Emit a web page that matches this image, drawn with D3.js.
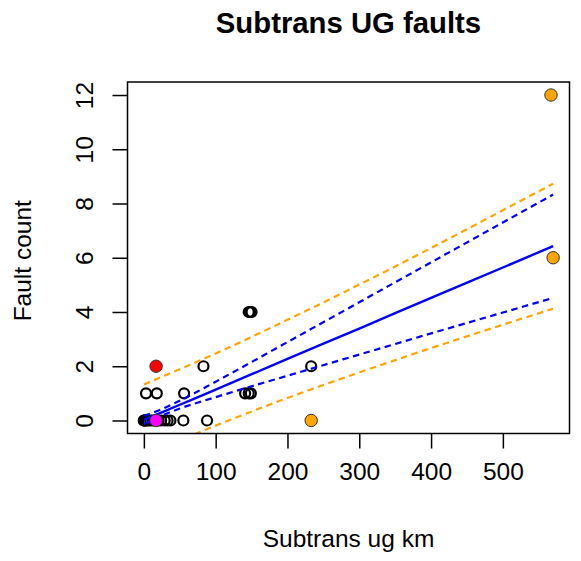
<!DOCTYPE html>
<html>
<head>
<meta charset="utf-8">
<script src="https://cdn.jsdelivr.net/npm/d3@7/dist/d3.min.js"></script>
<style>
  body { margin: 0; background: #fff; }
  text { font-family: "Liberation Sans", Arial, Helvetica, sans-serif; fill: #000; }
</style>
</head>
<body>
<svg id="chart" width="581" height="561"></svg>
<script>
// Underground subtransmission length per circuit vs. recorded faults
const openKm     = [0, 0, 1, 2, 4, 6, 9, 12, 20, 24, 29, 33, 37, 55, 88,
                    3, 18, 56, 141, 146, 149,
                    83, 233,
                    146, 148, 150];
const openFaults = [0, 0, 0, 0, 0, 0, 0, 0, 0, 0, 0, 0, 0, 0, 0,
                    1, 1, 1, 1, 1, 1,
                    2, 2,
                    4, 4, 4];

// Highlighted circuits
const hlKm     = [17, 17, 233, 567, 570];
const hlFaults = [2, 0, 0, 12, 6];
const hlGroup  = ["high", "target", "large", "large", "large"];

// Fitted line with confidence and prediction bands
const bandKm = [0, 25, 50, 100, 200, 300, 400, 500, 570];
const fitVal = [0.02, 0.30, 0.58, 1.14, 2.27, 3.39, 4.52, 5.64, 6.43];
const confLo = [-0.13, 0.18, 0.44, 0.86, 1.65, 2.43, 3.21, 3.98, 4.52];
const confHi = [0.17, 0.42, 0.73, 1.43, 2.89, 4.36, 5.83, 7.30, 8.33];
const predLo = [-1.29, -1.00, -0.73, -0.19, 0.83, 1.77, 2.67, 3.53, 4.12];
const predHi = [1.33, 1.61, 1.89, 2.47, 3.71, 5.01, 6.36, 7.75, 8.73];

const xTicks = [0, 100, 200, 300, 400, 500];
const yTicks = [0, 2, 4, 6, 8, 10, 12];

const svg = d3.select("#chart");
const plot = { left: 127.5, right: 569.5, top: 82, bottom: 433.5 };

const x = d3.scaleLinear().domain([-22.8, 592.8]).range([plot.left, plot.right]);
const y = d3.scaleLinear().domain([-0.48, 12.48]).range([plot.bottom, plot.top]);

const groupColor = d3.scaleOrdinal()
  .domain(["high", "target", "large"])
  .range(["#ff0000", "#ff00ff", "#ffa500"]);

svg.append("defs").append("clipPath").attr("id", "plotClip")
  .append("rect")
  .attr("x", plot.left).attr("y", plot.top)
  .attr("width", plot.right - plot.left).attr("height", plot.bottom - plot.top);

// Open circles
const openPts = openKm.map((k, i) => ({ k, f: openFaults[i] }));
svg.append("g").selectAll("circle").data(openPts).join("circle")
  .attr("cx", d => x(d.k)).attr("cy", d => y(d.f)).attr("r", 5)
  .attr("fill", "none").attr("stroke", "#000").attr("stroke-width", 2.2);

// Bands and fit
const bandRows = bandKm.map((k, i) => ({
  k, fit: fitVal[i], cl: confLo[i], ch: confHi[i], pl: predLo[i], ph: predHi[i]
}));
const lineFor = key => d3.line().x(d => x(d.k)).y(d => y(d[key])).curve(d3.curveMonotoneX);
const lines = svg.append("g").attr("clip-path", "url(#plotClip)").attr("fill", "none");
[["pl", "#ffa500"], ["ph", "#ffa500"], ["cl", "#0000ff"], ["ch", "#0000ff"]].forEach(([key, col]) => {
  lines.append("path").datum(bandRows).attr("d", lineFor(key))
    .attr("stroke", col).attr("stroke-width", 2.2).attr("stroke-dasharray", "6.5,4.5");
});
lines.append("path").datum(bandRows).attr("d", lineFor("fit"))
  .attr("stroke", "#0000ff").attr("stroke-width", 2.4);

// Filled highlighted circles
const hlPts = hlKm.map((k, i) => ({ k, f: hlFaults[i], g: hlGroup[i] }));
svg.append("g").selectAll("circle").data(hlPts).join("circle")
  .attr("cx", d => x(d.k)).attr("cy", d => y(d.f)).attr("r", 6.2)
  .attr("fill", d => groupColor(d.g)).attr("stroke", "#333").attr("stroke-width", 1);

// Frame
svg.append("rect")
  .attr("x", plot.left).attr("y", plot.top)
  .attr("width", plot.right - plot.left).attr("height", plot.bottom - plot.top)
  .attr("fill", "none").attr("stroke", "#000").attr("stroke-width", 1.5);

// X axis
const xAxis = svg.append("g").attr("transform", `translate(0,${plot.bottom})`)
  .call(d3.axisBottom(x).tickValues(xTicks).tickSize(15).tickSizeOuter(0));
xAxis.select(".domain").remove();
xAxis.selectAll(".tick line").attr("stroke", "#000").attr("stroke-width", 1.5);
xAxis.selectAll(".tick text")
  .attr("y", 46.5).attr("dy", null)
  .attr("font-size", 24.5).attr("font-family", "Liberation Sans, Arial, sans-serif").attr("fill", "#000");

// Y axis
const yAxis = svg.append("g").attr("transform", `translate(${plot.left},0)`)
  .call(d3.axisLeft(y).tickValues(yTicks).tickSize(15).tickSizeOuter(0));
yAxis.select(".domain").remove();
yAxis.selectAll(".tick line").attr("stroke", "#000").attr("stroke-width", 1.5);
yAxis.selectAll(".tick text")
  .attr("x", null).attr("dy", null)
  .attr("text-anchor", "middle")
  .attr("transform", "translate(-34.5,0) rotate(-90)")
  .attr("font-size", 24.5).attr("font-family", "Liberation Sans, Arial, sans-serif").attr("fill", "#000");

// Titles
svg.append("text")
  .attr("x", (plot.left + plot.right) / 2).attr("y", 33)
  .attr("text-anchor", "middle").attr("font-weight", "bold").attr("font-size", 29.3)
  .text("Subtrans UG faults");

svg.append("text")
  .attr("x", (plot.left + plot.right) / 2).attr("y", 547)
  .attr("text-anchor", "middle").attr("font-size", 24.5)
  .text("Subtrans ug km");

svg.append("text")
  .attr("transform", `translate(31,${(plot.top + plot.bottom) / 2 + 3}) rotate(-90)`)
  .attr("text-anchor", "middle").attr("font-size", 24.5)
  .text("Fault count");
</script>
</body>
</html>
